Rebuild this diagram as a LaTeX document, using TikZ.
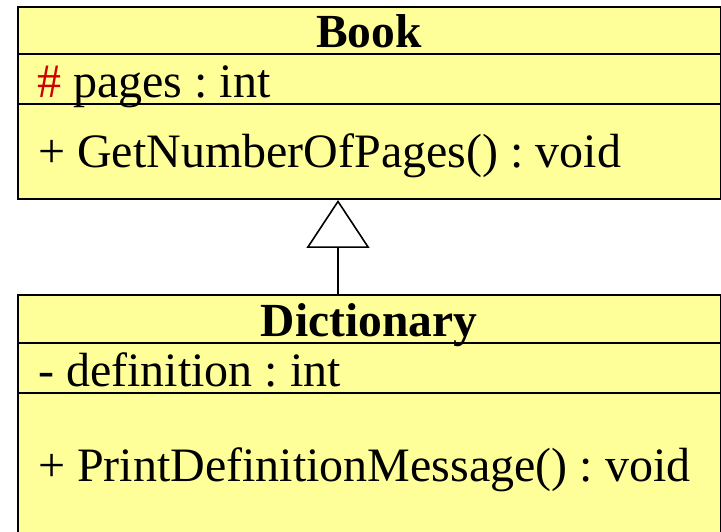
\documentclass[tikz,border=0pt]{standalone}
\usepackage{fontspec}
\setmainfont{Liberation Serif}
\usetikzlibrary{arrows.meta}
\definecolor{umlfill}{RGB}{255,255,153}
\definecolor{hashred}{RGB}{204,0,0}
\frenchspacing
\begin{document}
\begin{tikzpicture}[x=1pt,y=1pt,
  classbox/.style={draw=black, line width=2pt, fill=umlfill, rectangle, inner sep=0pt, anchor=north west},
  divider/.style={line width=2pt},
  txt/.style={inner sep=0pt, anchor=base west, font=\fontsize{48}{56}\selectfont},
  ttl/.style={inner sep=0pt, anchor=base, font=\fontsize{47.5}{56}\selectfont\bfseries},
  inherit/.style={line width=1.6pt, -{Triangle[open, width=63pt, length=48pt, line width=1.6pt]}}]
\useasboundingbox (0,0) rectangle (721,531);
% Book
\node[classbox, minimum width=703pt, minimum height=192pt] (book) at (17,525) {};
\draw[divider] (17,477) -- (720,477);
\draw[divider] (17,427) -- (720,427);
\node[ttl] (booktitle) at (369,483) {Book};
\node[txt] (bookattr) at (37,433) {\textcolor{hashred}{\#} pages : int};
\node[txt] (bookop) at (38,363) {+ GetNumberOfPages() : void};
% Dictionary
\node[classbox, minimum width=703pt, minimum height=260pt] (dict) at (17,237) {};
\draw[divider] (17,188) -- (720,188);
\draw[divider] (17,138) -- (720,138);
\node[ttl] (dicttitle) at (369,194) {Dictionary};
\node[txt] (dictattr) at (38,145) {- definition : int};
\node[txt] (dictop) at (38,50) {+ PrintDefinitionMessage() : void};
% inheritance
\coordinate (cx) at (338,0);
\draw[inherit] (dict.north -| cx) -- (book.south -| cx);
\end{tikzpicture}
\end{document}
